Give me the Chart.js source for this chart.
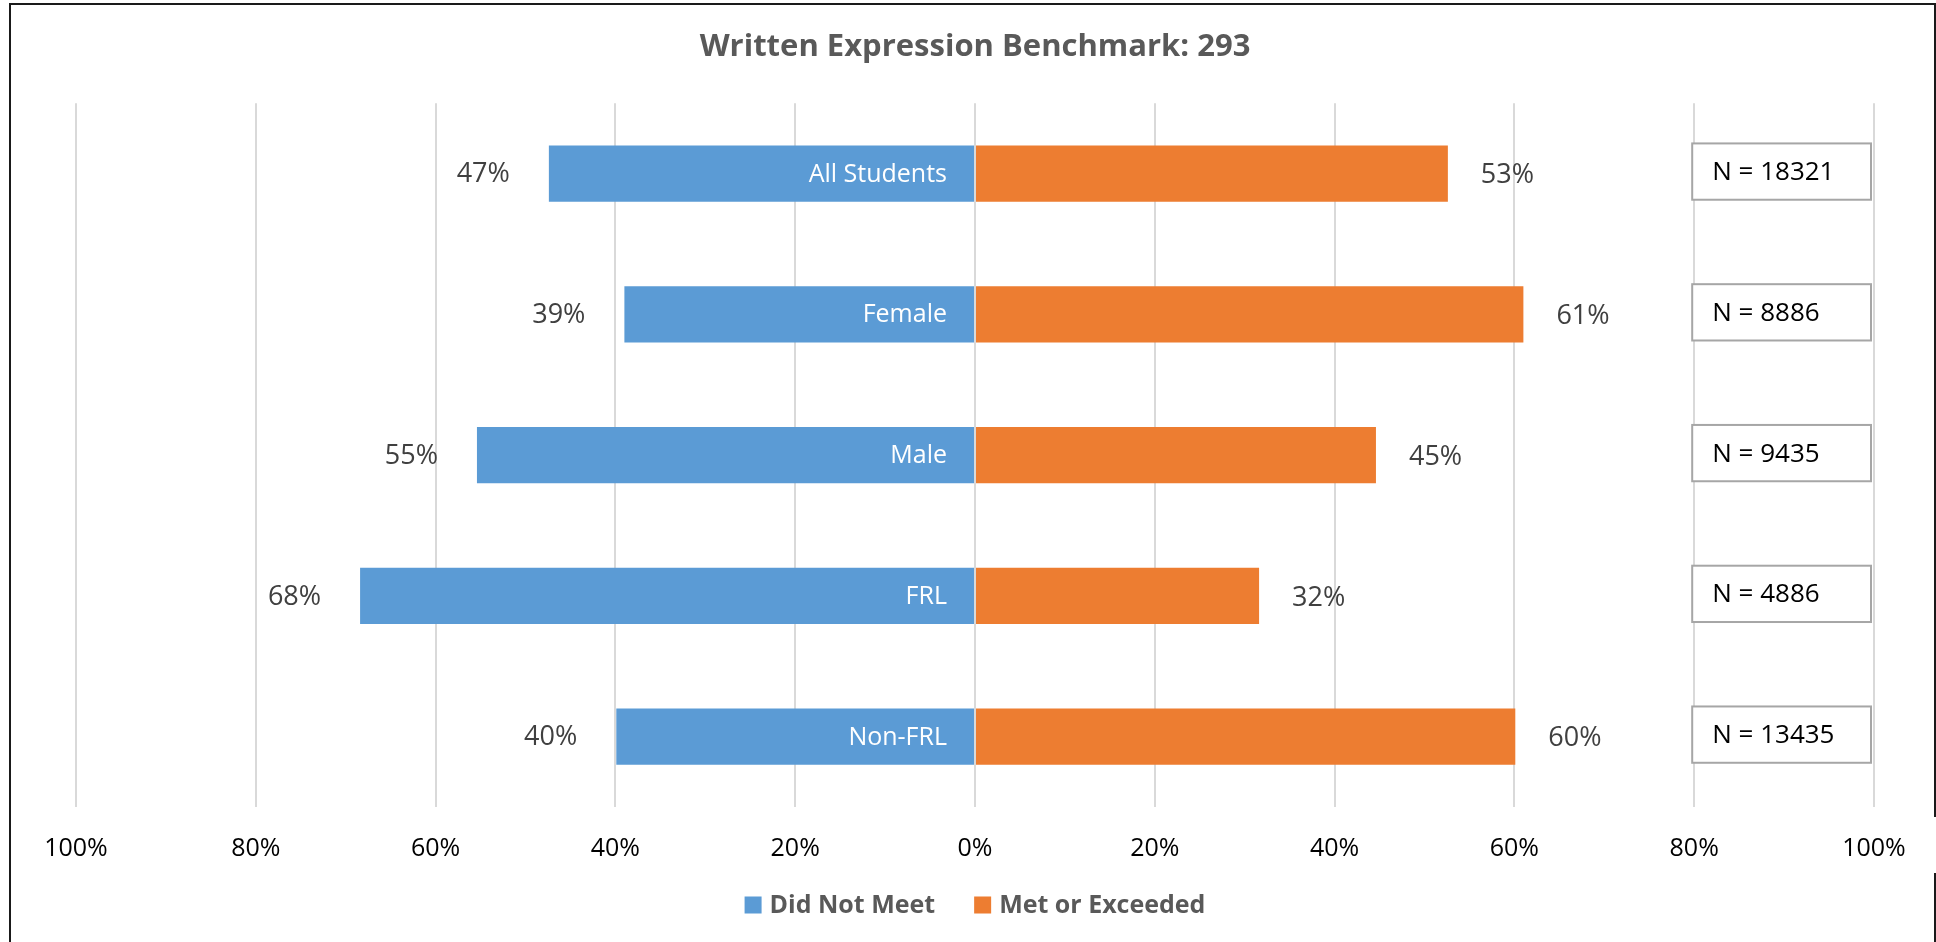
<!DOCTYPE html>
<html>
<head>
<meta charset="utf-8">
<script src="https://cdn.jsdelivr.net/npm/chart.js@4.4.0/dist/chart.umd.min.js"></script>
<style>
  html, body { margin: 0; padding: 0; background: #ffffff; }
  #wrap { position: relative; width: 1936px; height: 942px; }
</style>
</head>
<body>
<div id="wrap"><canvas id="c"></canvas></div>
<script>
const chartTitle = 'Written Expression Benchmark: 293';
const categories = ['All Students', 'Female', 'Male', 'FRL', 'Non-FRL'];
const didNotMeet = [47.4, 39.0, 55.4, 68.4, 39.9];
const metOrExceeded = [52.6, 61.0, 44.6, 31.6, 60.1];
const nCounts = [18321, 8886, 9435, 4886, 13435];
const seriesNames = ['Did Not Meet', 'Met or Exceeded'];
const seriesColors = ['#5b9bd5', '#ed7d31'];
const tickValues = [-100, -80, -60, -40, -20, 0, 20, 40, 60, 80, 100];

const FONT = "'Open Sans', 'DejaVu Sans', sans-serif";

const frame = {
  id: 'frame',
  beforeDraw(chart) {
    const ctx = chart.ctx;
    ctx.save();
    ctx.fillStyle = '#ffffff';
    ctx.fillRect(0, 0, chart.width, chart.height);
    ctx.strokeStyle = '#1a1a1a';
    ctx.lineWidth = 2;
    ctx.beginPath();
    ctx.moveTo(10, chart.height);
    ctx.lineTo(10, 4);
    ctx.lineTo(1935, 4);
    ctx.lineTo(1935, 817);
    ctx.moveTo(1935, 873);
    ctx.lineTo(1935, chart.height);
    ctx.stroke();
    ctx.restore();
  }
};

const labelsPlugin = {
  id: 'barLabels',
  afterDatasetsDraw(chart) {
    const ctx = chart.ctx;
    const x = chart.scales.x;
    const zero = x.getPixelForValue(0);
    const blueMeta = chart.getDatasetMeta(0);
    const orangeMeta = chart.getDatasetMeta(1);
    ctx.save();
    ctx.textBaseline = 'middle';
    blueMeta.data.forEach((bar, i) => {
      const left = Math.min(bar.x, bar.base);
      ctx.font = '25px ' + FONT;
      ctx.fillStyle = '#ffffff';
      ctx.textAlign = 'right';
      ctx.fillText(categories[i], zero - 28, bar.y + 1);
      ctx.font = '27px ' + FONT;
      ctx.fillStyle = '#404040';
      ctx.textAlign = 'right';
      ctx.fillText(Math.round(didNotMeet[i]) + '%', left - 39, bar.y + 1);
    });
    orangeMeta.data.forEach((bar, i) => {
      const right = Math.max(bar.x, bar.base);
      ctx.font = '27px ' + FONT;
      ctx.fillStyle = '#404040';
      ctx.textAlign = 'left';
      ctx.fillText(Math.round(metOrExceeded[i]) + '%', right + 33, bar.y + 2);
      const bx0 = x.getPixelForValue(80) - 2;
      const bx1 = x.getPixelForValue(100) - 3;
      const h = bar.height;
      const by0 = bar.y - h / 2 - 2;
      ctx.fillStyle = '#ffffff';
      ctx.fillRect(bx0, by0, bx1 - bx0, h);
      ctx.strokeStyle = '#a6a6a6';
      ctx.lineWidth = 2;
      ctx.strokeRect(bx0, by0, bx1 - bx0, h);
      ctx.font = '26px ' + FONT;
      ctx.fillStyle = '#000000';
      ctx.textAlign = 'left';
      ctx.fillText('N = ' + nCounts[i], bx0 + 20, by0 + h / 2 + 1);
    });
    ctx.restore();
  }
};

const legendPlugin = {
  id: 'customLegend',
  afterDraw(chart) {
    const ctx = chart.ctx;
    const area = chart.chartArea;
    const box = 17, gapText = 8, gapItem = 39;
    ctx.save();
    ctx.font = 'bold 25px ' + FONT;
    const widths = chart.data.datasets.map(d => ctx.measureText(d.label).width);
    let total = 0;
    widths.forEach((w, i) => { total += box + gapText + w + (i < widths.length - 1 ? gapItem : 0); });
    let cx = (area.left + area.right) / 2 - total / 2;
    const cy = 905;
    ctx.textBaseline = 'middle';
    ctx.textAlign = 'left';
    chart.data.datasets.forEach((d, i) => {
      ctx.fillStyle = d.backgroundColor;
      ctx.fillRect(cx, cy - box / 2, box, box);
      cx += box + gapText;
      ctx.fillStyle = '#595959';
      ctx.fillText(d.label, cx, cy + 1);
      cx += widths[i] + gapItem;
    });
    ctx.restore();
  }
};

new Chart(document.getElementById('c'), {
  type: 'bar',
  data: {
    labels: categories,
    datasets: [
      { label: seriesNames[0], data: didNotMeet.map(v => -v), backgroundColor: seriesColors[0],
        categoryPercentage: 1.0, barPercentage: 0.4 },
      { label: seriesNames[1], data: metOrExceeded, backgroundColor: seriesColors[1],
        categoryPercentage: 1.0, barPercentage: 0.4 }
    ]
  },
  options: {
    indexAxis: 'y',
    responsive: true,
    maintainAspectRatio: false,
    animation: false,
    devicePixelRatio: 1,
    layout: { padding: { left: 76, right: 62, top: 0, bottom: 0 } },
    plugins: {
      legend: { display: false },
      tooltip: { enabled: false },
      title: {
        display: true,
        text: chartTitle,
        color: '#595959',
        font: { family: FONT, size: 31, weight: 'bold' },
        padding: { top: 29, bottom: 37 }
      }
    },
    scales: {
      x: {
        stacked: true,
        min: -100,
        max: 100,
        afterBuildTicks(axis) { axis.ticks = tickValues.map(v => ({ value: v })); },
        afterFit(axis) { axis.height = 135; axis.paddingLeft = 0; axis.paddingRight = 0; },
        grid: { color: '#d9d9d9', lineWidth: 2, drawTicks: false },
        border: { display: false },
        ticks: {
          padding: 27,
          color: '#000000',
          font: { family: FONT, size: 25 },
          maxRotation: 0,
          autoSkip: false,
          callback: v => Math.abs(v) + '%'
        }
      },
      y: {
        stacked: true,
        display: false
      }
    }
  },
  plugins: [frame, labelsPlugin, legendPlugin]
});
</script>
</body>
</html>
